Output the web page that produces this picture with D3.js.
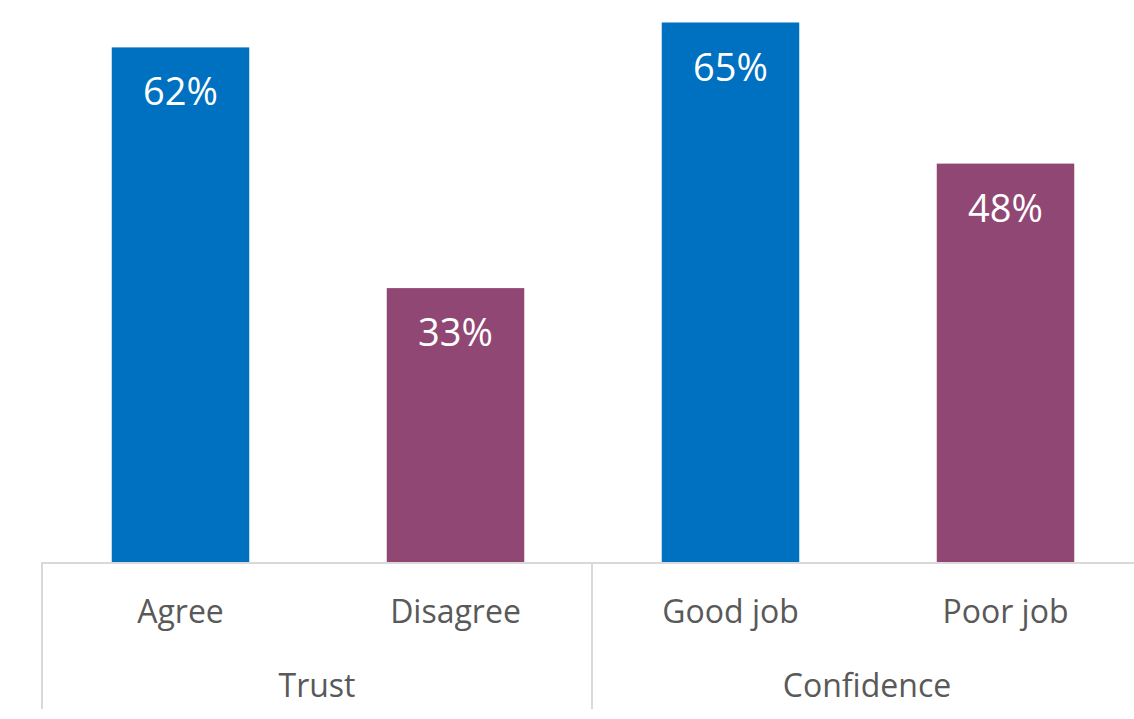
<!DOCTYPE html>
<html>
<head>
<meta charset="utf-8">
<script src="https://cdn.jsdelivr.net/npm/d3@7"></script>
<style>
  html, body { margin: 0; padding: 0; background: #fff; }
  svg { display: block; }
</style>
</head>
<body>
<svg id="chart" width="1134" height="719"></svg>
<script>
const categories = ["Agree", "Disagree", "Good job", "Poor job"];
const groups = ["Trust", "Trust", "Confidence", "Confidence"];
const groupNames = ["Trust", "Confidence"];
const values = [62, 33, 65, 48];
const barColors = ["#0070C0", "#914773", "#0070C0", "#914773"];

const svg = d3.select("#chart");
const x0 = 42, step = 275;
const baseline = 562;

const x = d3.scaleBand().domain(categories).range([x0 + 1, x0 + 1 + step * categories.length]).paddingInner(0.5).paddingOuter(0.25);
const y = d3.scaleLinear().domain([0, 100]).range([baseline, baseline - 830]);

const font = "'Open Sans', 'Noto Sans', sans-serif";

svg.selectAll("rect.bar").data(categories).enter().append("rect")
  .attr("class", "bar")
  .attr("x", d => x(d))
  .attr("width", x.bandwidth())
  .attr("y", (d, i) => y(values[i]))
  .attr("height", (d, i) => baseline - y(values[i]))
  .attr("fill", (d, i) => barColors[i]);

svg.selectAll("text.val").data(categories).enter().append("text")
  .attr("class", "val")
  .attr("x", d => x(d) + x.bandwidth() / 2)
  .attr("y", (d, i) => y(values[i]) + 58)
  .attr("text-anchor", "middle")
  .attr("fill", "#fff")
  .style("font-family", font)
  .style("font-size", "38px")
  .text((d, i) => values[i] + "%");

// axis
const axisColor = "#d9d9d9";
svg.append("line").attr("x1", x0).attr("x2", x0 + step * 4).attr("y1", baseline + 1).attr("y2", baseline + 1)
  .attr("stroke", axisColor).attr("stroke-width", 2);

const seps = [0, 2, 4].map(i => x0 + step * i);
svg.selectAll("line.sep").data(seps).enter().append("line")
  .attr("class", "sep")
  .attr("x1", d => d).attr("x2", d => d)
  .attr("y1", baseline).attr("y2", 709)
  .attr("stroke", axisColor).attr("stroke-width", 2);

svg.selectAll("text.cat").data(categories).enter().append("text")
  .attr("class", "cat")
  .attr("x", d => x(d) + x.bandwidth() / 2)
  .attr("y", 623)
  .attr("text-anchor", "middle")
  .attr("fill", "#595959")
  .style("font-family", font)
  .style("font-size", "32px")
  .text(d => d);

svg.selectAll("text.grp").data(groupNames).enter().append("text")
  .attr("class", "grp")
  .attr("x", (g, gi) => x0 + step * (2 * gi + 1))
  .attr("y", 697)
  .attr("text-anchor", "middle")
  .attr("fill", "#595959")
  .style("font-family", font)
  .style("font-size", "32px")
  .text(d => d);
</script>
</body>
</html>
